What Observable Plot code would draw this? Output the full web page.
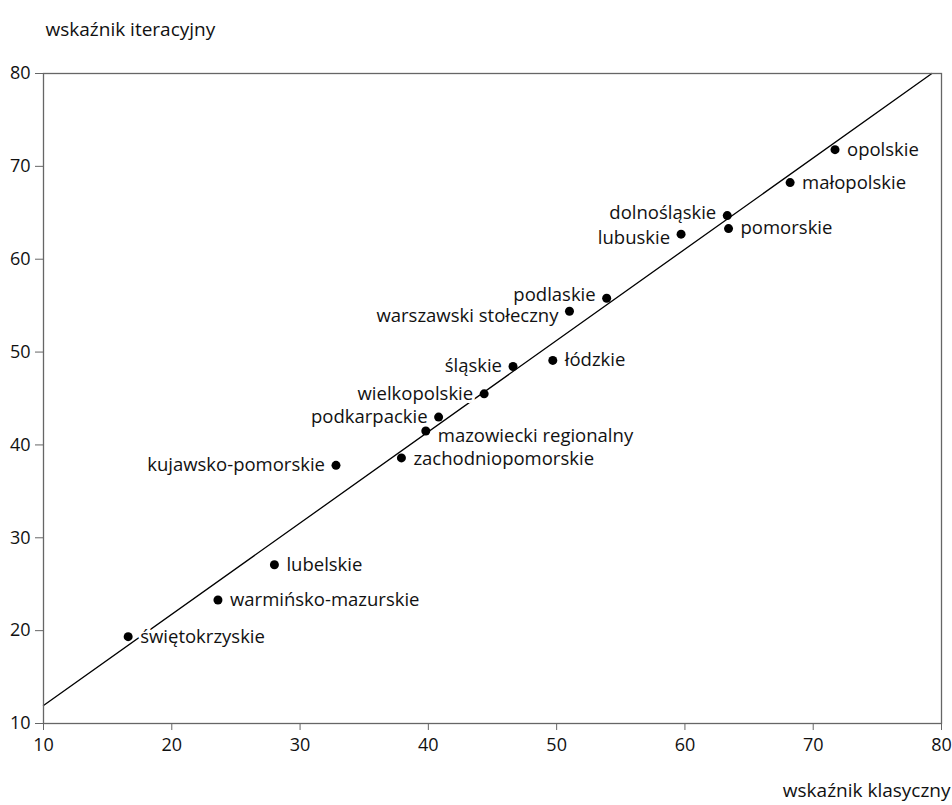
<!DOCTYPE html>
<html>
<head>
<meta charset="utf-8">
<script src="https://cdn.jsdelivr.net/npm/d3@7"></script>
<script src="https://cdn.jsdelivr.net/npm/@observablehq/plot@0.6"></script>
<style>
  html, body { margin: 0; padding: 0; background: #fff; }
  #chart svg { display: block; }
</style>
</head>
<body>
<div id="chart"></div>
<script>
// ---- data ----
const regions = [
  "opolskie", "małopolskie", "dolnośląskie", "pomorskie", "lubuskie",
  "podlaskie", "warszawski stołeczny", "łódzkie", "śląskie", "wielkopolskie",
  "podkarpackie", "mazowiecki regionalny", "zachodniopomorskie", "kujawsko-pomorskie",
  "lubelskie", "warmińsko-mazurskie", "świętokrzyskie"
];
const klasyczny = [71.7, 68.2, 63.3, 63.4, 59.7, 53.9, 51.0, 49.7, 46.6, 44.35, 40.8, 39.8, 37.9, 32.8, 28.0, 23.6, 16.6];
const iteracyjny = [71.8, 68.25, 64.7, 63.3, 62.7, 55.8, 54.4, 49.1, 48.45, 45.5, 43.0, 41.5, 38.6, 37.8, 27.1, 23.3, 19.35];
const xTicks = [10, 20, 30, 40, 50, 60, 70, 80];
const yTicks = [10, 20, 30, 40, 50, 60, 70, 80];
const fitIntercept = 2.1;
const fitSlope = 0.983;
const xTitle = "wskaźnik klasyczny";
const yTitle = "wskaźnik iteracyjny";

// ---- build ----
const data = regions.map((name, i) => ({name, x: klasyczny[i], y: iteracyjny[i]}));
const xMin = 10, yMax = 80;
const fitLine = [
  {x: xMin, y: fitIntercept + fitSlope * xMin},
  {x: (yMax - fitIntercept) / fitSlope, y: yMax}
];

// label placement (side and small vertical nudge)
const leftSide = new Set(["dolnośląskie", "lubuskie", "podlaskie", "warszawski stołeczny",
  "śląskie", "wielkopolskie", "podkarpackie", "kujawsko-pomorskie"]);
const nudge = {
  "mazowiecki regionalny": 5, "zachodniopomorskie": 1,
  "lubuskie": 4, "dolnośląskie": -2,
  "warszawski stołeczny": 5, "podlaskie": -3
};

const labelMarks = data.map(d => Plot.text([d], {
  x: "x", y: "y", text: "name",
  textAnchor: leftSide.has(d.name) ? "end" : "start",
  dx: leftSide.has(d.name) ? -11 : 12,
  dy: nudge[d.name] || 0,
  fontSize: 18.5,
  fill: "#111",
  stroke: "white",
  strokeWidth: 6
}));

const chart = Plot.plot({
  width: 952,
  height: 805,
  marginLeft: 43,
  marginRight: 11,
  marginTop: 73,
  marginBottom: 82,
  style: {fontFamily: "'Open Sans', sans-serif", fontSize: "18px", background: "white", color: "#111"},
  x: {domain: [10, 80]},
  y: {domain: [10, 80]},
  marks: [
    Plot.axisX({ticks: xTicks, tickSize: 7, tickPadding: 8, label: null, stroke: "#666", fill: "#111", fontSize: 18}),
    Plot.axisY({ticks: yTicks, tickSize: 8, tickPadding: 5, label: null, stroke: "#666", fill: "#111", fontSize: 18}),
    Plot.line(fitLine, {x: "x", y: "y", stroke: "black", strokeWidth: 1.3}),
    Plot.dot(data, {x: "x", y: "y", r: 4.5, fill: "black", stroke: "none"}),
    ...labelMarks,
    Plot.frame({stroke: "#666", strokeWidth: 1.3}),
    Plot.text([yTitle], {frameAnchor: "top-left", textAnchor: "start", dx: 2, dy: -51, fontSize: 19, fill: "#111"}),
    Plot.text([xTitle], {frameAnchor: "bottom-right", textAnchor: "end", dx: 9, dy: 73, fontSize: 19, fill: "#111"})
  ]
});
document.getElementById("chart").appendChild(chart);
</script>
</body>
</html>
